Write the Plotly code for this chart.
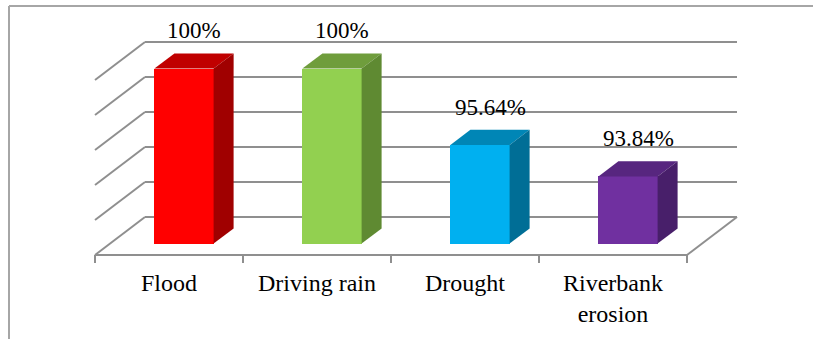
import plotly.graph_objects as go

# ---- data ----
categories = ["Flood", "Driving rain", "Drought", "Riverbank<br>erosion"]
values = [100, 100, 95.64, 93.84]
value_labels = ["100%", "100%", "95.64%", "93.84%"]
front_colors = ["#FF0000", "#92D050", "#00B0F0", "#7030A0"]
top_colors = ["#C00000", "#6F9D3C", "#0086B6", "#57267F"]
side_colors = ["#A00000", "#5F8A32", "#006E96", "#481F6A"]
grid_values = [90, 92, 94, 96, 98, 100]

# ---- 3-D box geometry ----
W, H = 813, 339
CAT_PX = 148.0          # pixels per category slot
PCT_PX = 17.5           # pixels per percentage point
DEPTH_PX = (50.0, 38.0) # full floor depth: shift right / up in pixels
X_LEFT_PX = 95.0        # floor front-left corner
Y_FLOOR_PX = 255.0
V_MIN = 90
BAR_W = 0.4             # bar width in category units
D0, D1 = 0.3, 0.7       # bar depth span (0 = front, 1 = back wall)

KX = DEPTH_PX[0] / CAT_PX
KY = DEPTH_PX[1] / PCT_PX
x_range = [-0.5 - X_LEFT_PX / CAT_PX, -0.5 + (W - X_LEFT_PX) / CAT_PX]
y_range = [V_MIN - (H - Y_FLOOR_PX) / PCT_PX, V_MIN + Y_FLOOR_PX / PCT_PX]
C_LO, C_HI = -0.5, len(categories) - 0.5


def proj(c, v, d):
    """Oblique projection of (category, value, depth) onto the x/y axes."""
    return c + d * KX, v + d * KY


GRID = dict(color="#8F8F8F", width=2)
FONT = "Liberation Serif, Times New Roman, serif"

fig = go.Figure()
shapes = []


def seg(p, q, line):
    shapes.append(dict(type="line", xref="x", yref="y", layer="below",
                       x0=p[0], y0=p[1], x1=q[0], y1=q[1], line=line))


# back wall gridlines and left wall diagonals
for g in grid_values:
    seg(proj(C_LO, g, 1), proj(C_HI, g, 1), GRID)
    seg(proj(C_LO, g, 0), proj(C_LO, g, 1), GRID)
# floor front and right edges
seg(proj(C_LO, V_MIN, 0), proj(C_HI, V_MIN, 0), GRID)
seg(proj(C_HI, V_MIN, 0), proj(C_HI, V_MIN, 1), GRID)
# category tick marks below the floor
tick_len = 8 / PCT_PX
for k in range(len(categories) + 1):
    c = C_LO + k
    seg(proj(c, V_MIN, 0), proj(c, V_MIN - tick_len, 0), GRID)

# outer frame (left and top)
FRAME = dict(color="#A6A6A6", width=2)
shapes.append(dict(type="line", xref="paper", yref="paper",
                   x0=9 / W, x1=9 / W, y0=0, y1=1 - 6 / H, line=FRAME))
shapes.append(dict(type="line", xref="paper", yref="paper",
                   x0=9 / W, x1=1, y0=1 - 6 / H, y1=1 - 6 / H, line=FRAME))

# bar fronts
fig.add_trace(go.Bar(
    x=[i + D0 * KX for i in range(len(values))],
    y=[v - V_MIN for v in values],
    base=[V_MIN + D0 * KY] * len(values),
    width=BAR_W,
    marker=dict(color=front_colors, line=dict(width=0)),
    hoverinfo="skip",
))

# bar tops and right sides
for i, v in enumerate(values):
    l, r = i - BAR_W / 2, i + BAR_W / 2
    top = [proj(l, v, D0), proj(r, v, D0), proj(r, v, D1), proj(l, v, D1)]
    side = [proj(r, V_MIN, D0), proj(r, v, D0), proj(r, v, D1), proj(r, V_MIN, D1)]
    for poly, col in ((top, top_colors[i]), (side, side_colors[i])):
        xs = [p[0] for p in poly] + [poly[0][0]]
        ys = [p[1] for p in poly] + [poly[0][1]]
        fig.add_trace(go.Scatter(x=xs, y=ys, mode="lines", fill="toself",
                                 fillcolor=col, line=dict(width=0, color=col),
                                 hoverinfo="skip"))

annotations = []
# value labels above each bar
for i, (v, t) in enumerate(zip(values, value_labels)):
    x, y = proj(i, v, D1)
    annotations.append(dict(x=i + 0.5 * KX, y=y, text=t, showarrow=False,
                            xanchor="center", yanchor="bottom", yshift=8,
                            font=dict(family=FONT, size=23, color="black")))
# category labels under the floor
for i, c in enumerate(categories):
    annotations.append(dict(x=i, y=V_MIN, text=c, showarrow=False,
                            xanchor="center", yanchor="top", yshift=-13,
                            font=dict(family=FONT, size=24, color="black")))

fig.update_layout(
    width=W, height=H,
    margin=dict(l=0, r=0, t=0, b=0),
    paper_bgcolor="white", plot_bgcolor="white",
    showlegend=False,
    bargap=0,
    xaxis=dict(range=x_range, visible=False, fixedrange=True),
    yaxis=dict(range=y_range, visible=False, fixedrange=True),
    shapes=shapes,
    annotations=annotations,
)

fig.write_html("out.html")
